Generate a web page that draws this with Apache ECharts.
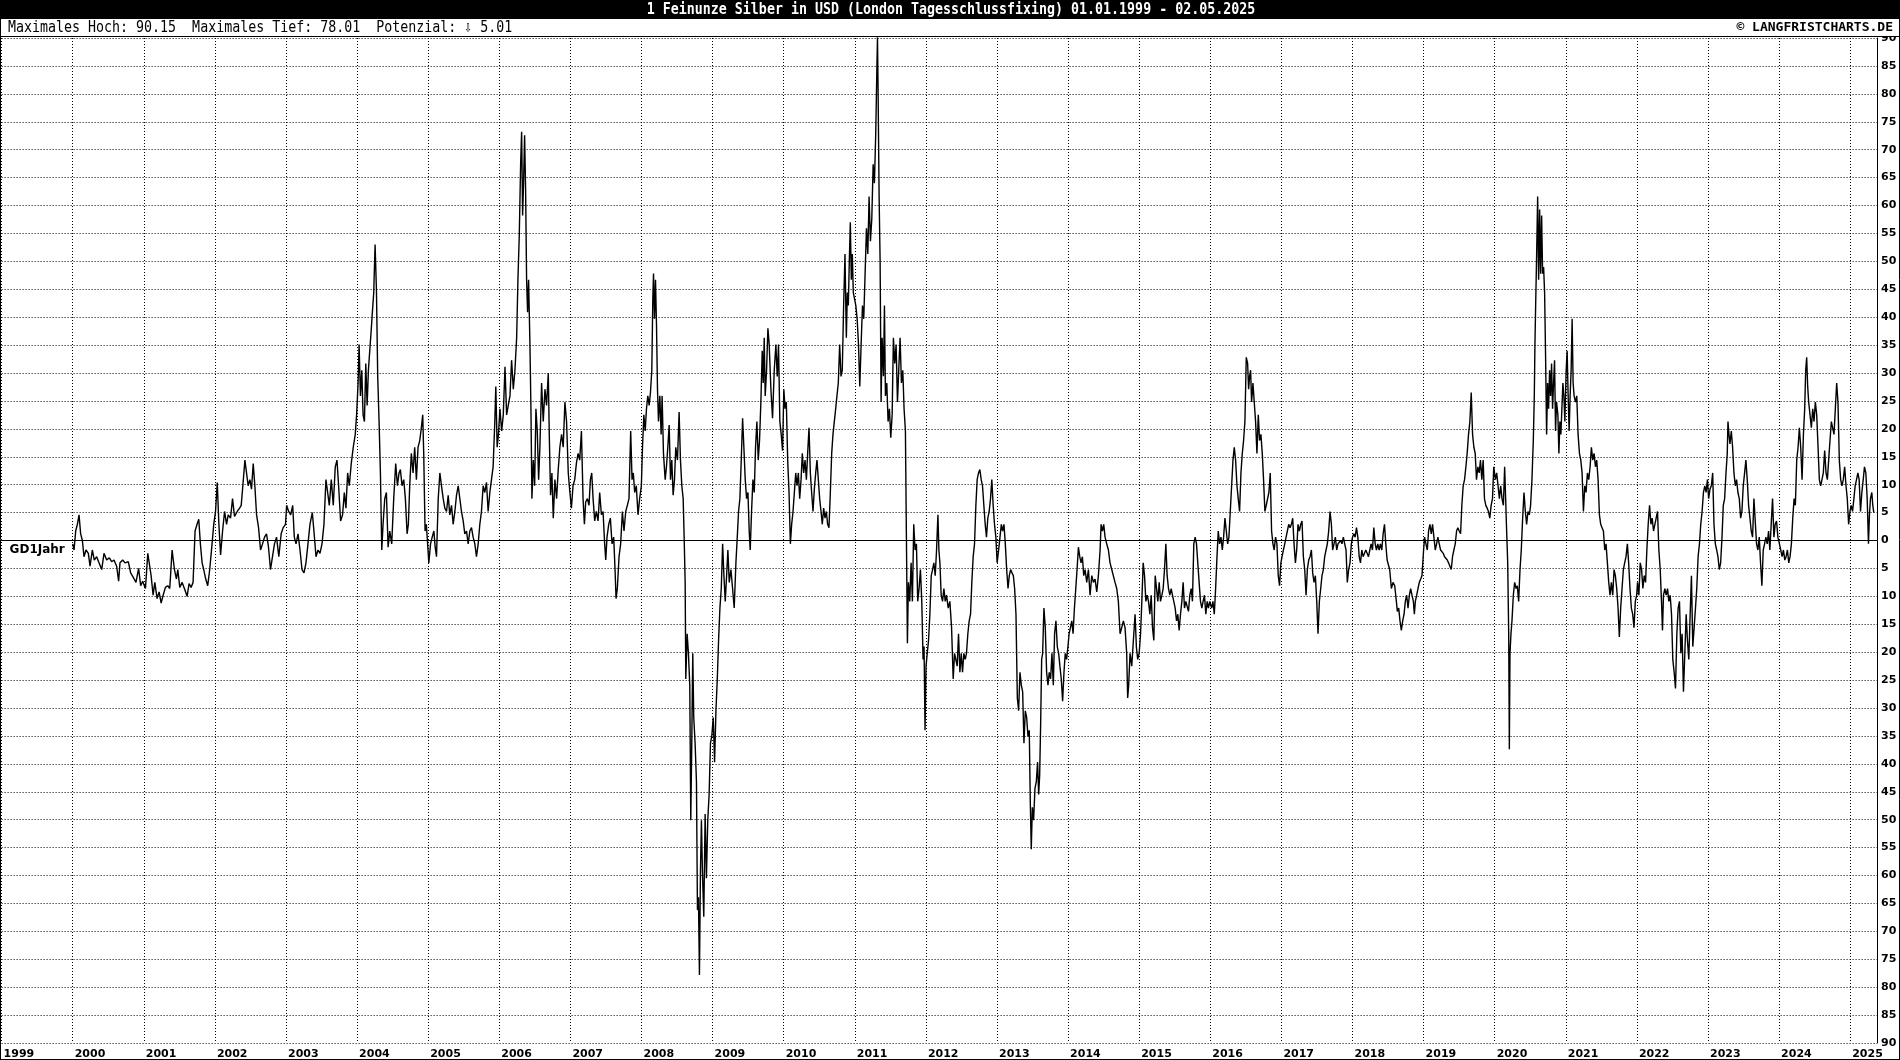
<!DOCTYPE html>
<html><head><meta charset="utf-8">
<script src="https://cdn.jsdelivr.net/npm/echarts@6/dist/echarts.min.js"></script>
<style>html,body{margin:0;padding:0;background:#fff}#c{width:1900px;height:1060px}</style>
</head><body><div id="c"></div>
<script>
const titleText = '1 Feinunze Silber in USD (London Tagesschlussfixing) 01.01.1999 - 02.05.2025';
const infoText = 'Maximales Hoch: 90.15  Maximales Tief: 78.01  Potenzial: \u21E9 5.01';
const copyText = '\u00A9 LANGFRISTCHARTS.DE';
const lineName = 'GD1Jahr';
const yTicks = [-90,-85,-80,-75,-70,-65,-60,-55,-50,-45,-40,-35,-30,-25,-20,-15,-10,-5,0,5,10,15,20,25,30,35,40,45,50,55,60,65,70,75,80,85,90];
const yearTicks = [1999,2000,2001,2002,2003,2004,2005,2006,2007,2008,2009,2010,2011,2012,2013,2014,2015,2016,2017,2018,2019,2020,2021,2022,2023,2024,2025];

// [decimal year, % deviation from 1-year moving average]
const d2000 = [[2000.000,-0.6],[2000.019,-1.7],[2000.042,1.7],[2000.066,2.9],[2000.089,4.6],[2000.112,1.2],[2000.136,0],[2000.159,-2.9],[2000.187,-1.7],[2000.220,-2.3],[2000.244,-4.6],[2000.276,-1.7],[2000.304,-3.5],[2000.337,-2.9],[2000.370,-4.0],[2000.408,-5.2],[2000.440,-2.3],[2000.478,-3.5],[2000.515,-3.1],[2000.548,-3.8],[2000.581,-3.5],[2000.618,-4.6],[2000.646,-7.3],[2000.665,-4.0],[2000.703,-3.5],[2000.735,-4.0],[2000.782,-3.8],[2000.815,-5.8],[2000.852,-6.6],[2000.890,-7.5],[2000.927,-5.0],[2000.956,-8.1],[2000.984,-7.3]];
const d2001 = [[2001.023,-8.6],[2001.056,-2.3],[2001.084,-2.3],[2001.103,-6.3],[2001.131,-9.8],[2001.155,-7.5],[2001.187,-10.4],[2001.215,-9.2],[2001.244,-11.2],[2001.272,-9.8],[2001.304,-8.4],[2001.337,-8.1],[2001.365,-8.6],[2001.398,-1.7],[2001.431,-5.2],[2001.459,-6.9],[2001.478,-5.2],[2001.506,-8.4],[2001.539,-7.5],[2001.571,-8.6],[2001.609,-10.0],[2001.637,-7.7],[2001.665,-8.4],[2001.693,-7.5],[2001.721,1.7],[2001.749,2.9],[2001.773,3.8],[2001.796,-0.6],[2001.820,-4.0],[2001.843,-5.2],[2001.871,-6.9],[2001.899,-8.1],[2001.927,-5.2],[2001.960,-0.6],[2001.984,2.9]];
const d2002 = [[2002.009,5.2],[2002.033,10.4],[2002.056,2.9],[2002.080,-2.6],[2002.108,1.7],[2002.136,5.2],[2002.164,2.9],[2002.187,4.6],[2002.220,4.0],[2002.248,7.5],[2002.276,4.3],[2002.314,5.2],[2002.347,5.8],[2002.370,6.3],[2002.393,9.8],[2002.422,14.4],[2002.445,12.1],[2002.468,9.8],[2002.492,10.9],[2002.515,9.2],[2002.539,13.8],[2002.562,9.8],[2002.586,4.6],[2002.614,2.3],[2002.642,-1.7],[2002.670,-0.6],[2002.698,0.6],[2002.726,1.2],[2002.754,-1.2],[2002.782,-5.2],[2002.810,-2.9],[2002.838,-0.6],[2002.867,0.6],[2002.899,-2.9],[2002.932,1.2],[2002.960,2.3],[2002.993,2.9]];
const d2003 = [[2003.009,6.3],[2003.037,5.2],[2003.066,4.6],[2003.094,6.3],[2003.117,0.6],[2003.141,-0.6],[2003.169,1.2],[2003.197,-1.7],[2003.225,-5.2],[2003.253,-5.8],[2003.281,-4.0],[2003.309,-0.6],[2003.337,2.9],[2003.370,5.0],[2003.393,1.7],[2003.422,-2.9],[2003.450,-1.7],[2003.478,-2.3],[2003.506,-0.6],[2003.534,2.9],[2003.562,10.9],[2003.586,8.6],[2003.609,6.3],[2003.637,10.9],[2003.665,6.3],[2003.693,13.2],[2003.717,14.4],[2003.740,9.8],[2003.768,3.5],[2003.796,4.6],[2003.820,8.6],[2003.843,5.8],[2003.867,12.1],[2003.890,9.8],[2003.918,13.8],[2003.946,16.7],[2003.974,19.0],[2003.993,22.5]];
const d2004 = [[2004.014,28.2],[2004.028,35.1],[2004.047,25.9],[2004.066,30.5],[2004.084,22.5],[2004.103,21.3],[2004.122,31.7],[2004.141,24.2],[2004.159,30.5],[2004.178,34.0],[2004.197,37.4],[2004.215,40.9],[2004.234,44.4],[2004.253,53.0],[2004.272,44.9],[2004.290,29.4],[2004.309,21.3],[2004.328,12.1],[2004.347,-1.7],[2004.365,2.9],[2004.389,7.5],[2004.412,8.6],[2004.436,-1.2],[2004.459,1.7],[2004.487,-0.6],[2004.515,7.5],[2004.543,13.8],[2004.567,9.8],[2004.590,12.1],[2004.609,12.7],[2004.632,9.8],[2004.656,10.9],[2004.679,7.5],[2004.703,1.2],[2004.721,2.9],[2004.740,9.8],[2004.763,15.6],[2004.787,12.1],[2004.810,16.7],[2004.834,10.9],[2004.857,16.7],[2004.881,17.9],[2004.904,20.2],[2004.923,22.5],[2004.937,15.6],[2004.956,1.7],[2004.974,2.9]];
const d2005 = [[2005.009,-4.0],[2005.033,-0.6],[2005.056,0.6],[2005.080,1.7],[2005.098,-1.2],[2005.117,-2.9],[2005.141,7.5],[2005.164,12.1],[2005.187,9.8],[2005.211,7.5],[2005.234,5.8],[2005.258,5.2],[2005.281,8.1],[2005.304,4.6],[2005.328,6.3],[2005.351,2.9],[2005.375,5.2],[2005.398,8.1],[2005.422,9.8],[2005.445,7.5],[2005.468,5.2],[2005.492,3.5],[2005.515,1.2],[2005.539,1.7],[2005.562,-0.6],[2005.586,1.7],[2005.609,2.3],[2005.632,0.6],[2005.656,-0.6],[2005.679,-2.9],[2005.703,-0.6],[2005.726,2.9],[2005.749,5.2],[2005.773,9.8],[2005.796,8.6],[2005.820,10.4],[2005.843,5.2],[2005.867,8.6],[2005.890,10.9],[2005.913,13.2],[2005.937,21.3],[2005.951,27.6],[2005.970,16.7],[2005.988,19.0]];
const d2006 = [[2006.009,23.6],[2006.033,19.6],[2006.056,22.5],[2006.080,31.1],[2006.103,22.5],[2006.126,24.2],[2006.150,25.9],[2006.173,32.3],[2006.197,27.1],[2006.220,30.5],[2006.244,36.3],[2006.262,46.7],[2006.281,54.7],[2006.300,67.4],[2006.314,73.2],[2006.328,58.2],[2006.342,64.5],[2006.356,72.6],[2006.370,62.8],[2006.384,46.7],[2006.398,40.9],[2006.412,46.7],[2006.431,35.1],[2006.445,23.6],[2006.459,7.5],[2006.478,14.4],[2006.497,9.8],[2006.515,23.6],[2006.534,19.6],[2006.553,10.9],[2006.571,16.7],[2006.595,28.2],[2006.618,21.3],[2006.642,27.1],[2006.665,24.2],[2006.689,30.0],[2006.703,19.0],[2006.721,8.1],[2006.740,12.1],[2006.759,4.0],[2006.782,10.9],[2006.806,7.5],[2006.829,12.7],[2006.852,16.7],[2006.876,19.0],[2006.899,16.7],[2006.923,24.8],[2006.946,21.3],[2006.970,12.1],[2006.993,8.6]];
const d2007 = [[2007.014,5.8],[2007.037,9.8],[2007.061,10.9],[2007.084,13.8],[2007.108,15.6],[2007.131,14.4],[2007.155,19.6],[2007.178,7.5],[2007.197,2.9],[2007.215,6.9],[2007.239,7.5],[2007.262,6.3],[2007.281,10.9],[2007.300,12.1],[2007.319,7.5],[2007.342,3.5],[2007.365,5.2],[2007.389,3.5],[2007.412,8.6],[2007.436,4.6],[2007.459,5.2],[2007.482,-0.6],[2007.497,-3.5],[2007.515,0.6],[2007.539,2.9],[2007.562,4.0],[2007.586,-0.6],[2007.609,0.6],[2007.628,-5.2],[2007.642,-10.4],[2007.660,-8.6],[2007.684,-2.9],[2007.707,-0.6],[2007.731,5.2],[2007.754,1.7],[2007.778,5.2],[2007.801,6.3],[2007.824,7.5],[2007.848,19.6],[2007.867,10.9],[2007.885,12.1],[2007.904,8.6],[2007.927,9.8],[2007.951,4.6],[2007.974,7.5],[2007.998,9.8]];
const d2008 = [[2008.014,16.7],[2008.033,22.5],[2008.052,19.6],[2008.070,23.6],[2008.089,25.9],[2008.108,24.2],[2008.126,26.5],[2008.145,30.5],[2008.159,43.2],[2008.169,47.8],[2008.183,39.7],[2008.197,46.7],[2008.211,38.6],[2008.225,27.1],[2008.239,21.3],[2008.258,25.9],[2008.276,19.0],[2008.290,25.9],[2008.309,15.6],[2008.333,10.9],[2008.351,13.2],[2008.370,16.7],[2008.389,20.7],[2008.408,10.9],[2008.426,14.4],[2008.445,8.1],[2008.464,10.9],[2008.482,16.7],[2008.506,14.4],[2008.529,23.0],[2008.548,14.4],[2008.567,9.8],[2008.586,7.5],[2008.600,0.6],[2008.614,-7.5],[2008.623,-24.8],[2008.642,-16.7],[2008.660,-20.2],[2008.679,-25.9],[2008.693,-50.1],[2008.707,-36.3],[2008.721,-20.2],[2008.735,-31.7],[2008.754,-36.3],[2008.773,-43.2],[2008.787,-66.2],[2008.801,-63.9],[2008.815,-77.8],[2008.829,-59.3],[2008.843,-50.1],[2008.857,-59.3],[2008.876,-67.4],[2008.895,-49.0],[2008.913,-60.5],[2008.932,-50.1],[2008.951,-45.5],[2008.970,-36.3],[2008.988,-35.1]];
const d2009 = [[2009.009,-31.7],[2009.028,-39.7],[2009.047,-30.5],[2009.066,-24.8],[2009.084,-17.9],[2009.103,-12.1],[2009.122,-8.6],[2009.141,-0.6],[2009.159,-6.3],[2009.178,-10.9],[2009.197,-6.3],[2009.215,-1.7],[2009.234,-7.5],[2009.258,-5.2],[2009.281,-8.6],[2009.304,-12.1],[2009.328,-4.0],[2009.347,0.6],[2009.365,5.2],[2009.384,7.5],[2009.403,14.4],[2009.422,21.9],[2009.440,16.7],[2009.459,10.9],[2009.478,7.5],[2009.497,8.6],[2009.515,1.7],[2009.529,-1.7],[2009.548,5.2],[2009.567,10.9],[2009.586,8.6],[2009.604,16.7],[2009.623,21.3],[2009.642,14.4],[2009.660,17.9],[2009.679,24.8],[2009.698,34.0],[2009.712,28.2],[2009.726,36.3],[2009.740,25.9],[2009.759,30.5],[2009.778,38.0],[2009.796,35.1],[2009.820,27.1],[2009.843,21.9],[2009.867,30.5],[2009.890,35.1],[2009.909,29.4],[2009.927,35.1],[2009.946,21.3],[2009.965,19.0],[2009.984,16.1]];
const d2010 = [[2010.002,27.1],[2010.019,23.6],[2010.037,24.8],[2010.056,14.4],[2010.075,8.6],[2010.094,-0.6],[2010.112,2.9],[2010.131,5.2],[2010.150,8.6],[2010.169,12.1],[2010.187,9.8],[2010.206,12.1],[2010.225,7.5],[2010.244,10.9],[2010.262,15.6],[2010.281,12.1],[2010.300,14.4],[2010.319,10.9],[2010.337,15.6],[2010.356,20.2],[2010.375,12.1],[2010.393,8.6],[2010.412,5.2],[2010.431,9.2],[2010.450,12.1],[2010.468,14.4],[2010.487,10.9],[2010.506,7.5],[2010.525,5.2],[2010.543,2.9],[2010.562,5.8],[2010.581,4.0],[2010.600,5.2],[2010.618,2.9],[2010.637,2.3],[2010.656,8.6],[2010.675,15.6],[2010.693,19.0],[2010.712,21.3],[2010.731,23.6],[2010.749,25.9],[2010.768,28.2],[2010.787,35.1],[2010.806,29.4],[2010.824,30.5],[2010.843,42.1],[2010.862,51.3],[2010.881,36.3],[2010.895,44.4],[2010.909,42.1],[2010.923,50.1],[2010.937,57.0],[2010.951,46.7],[2010.965,51.3],[2010.979,44.4]];
const d2011 = [[2011.014,42.1],[2011.033,39.7],[2011.052,35.1],[2011.070,27.6],[2011.089,35.1],[2011.108,42.1],[2011.126,39.7],[2011.145,47.8],[2011.164,55.9],[2011.183,51.3],[2011.201,61.6],[2011.220,53.6],[2011.239,57.6],[2011.258,67.4],[2011.276,64.0],[2011.295,73.2],[2011.309,83.5],[2011.319,90.2],[2011.328,80.1],[2011.342,61.6],[2011.356,50.1],[2011.370,24.8],[2011.384,36.3],[2011.403,29.4],[2011.417,42.1],[2011.431,25.9],[2011.450,28.2],[2011.468,21.3],[2011.487,23.6],[2011.506,18.4],[2011.525,22.5],[2011.543,36.3],[2011.562,31.7],[2011.581,35.1],[2011.600,24.8],[2011.618,30.5],[2011.637,36.3],[2011.656,28.2],[2011.675,30.5],[2011.693,23.6],[2011.712,19.6],[2011.726,0.6],[2011.740,-18.4],[2011.754,-7.5],[2011.773,-10.9],[2011.792,-4.0],[2011.810,-10.9],[2011.829,2.9],[2011.848,-1.7],[2011.867,-0.6],[2011.885,-10.9],[2011.904,-8.6],[2011.923,-5.2],[2011.942,-10.9],[2011.960,-21.3],[2011.974,-19.0],[2011.988,-34.0]];
const d2012 = [[2012.002,-22.5],[2012.019,-20.2],[2012.037,-17.9],[2012.056,-13.2],[2012.075,-6.3],[2012.094,-5.2],[2012.112,-4.0],[2012.131,-6.3],[2012.150,-1.7],[2012.169,4.6],[2012.183,-1.7],[2012.197,-4.0],[2012.215,-9.8],[2012.234,-10.9],[2012.253,-8.6],[2012.272,-10.9],[2012.290,-9.8],[2012.314,-12.1],[2012.337,-10.9],[2012.361,-15.6],[2012.384,-24.8],[2012.403,-20.2],[2012.422,-20.2],[2012.440,-22.5],[2012.459,-16.7],[2012.478,-23.6],[2012.497,-20.2],[2012.515,-23.6],[2012.534,-20.2],[2012.553,-21.3],[2012.571,-20.2],[2012.590,-16.7],[2012.609,-14.4],[2012.628,-13.2],[2012.646,-7.5],[2012.665,-2.9],[2012.684,-0.6],[2012.703,6.3],[2012.721,10.9],[2012.740,12.1],[2012.759,12.7],[2012.778,10.9],[2012.796,9.8],[2012.815,6.3],[2012.834,2.9],[2012.852,0.6],[2012.871,4.0],[2012.890,5.2],[2012.909,7.5],[2012.927,10.9],[2012.946,6.3],[2012.965,2.9],[2012.984,0.6]];
const d2013 = [[2013.002,-4.0],[2013.023,-1.7],[2013.042,0.6],[2013.061,2.9],[2013.080,1.7],[2013.098,2.9],[2013.117,-0.6],[2013.136,-5.2],[2013.155,-8.6],[2013.173,-6.3],[2013.192,-5.2],[2013.211,-5.8],[2013.230,-6.3],[2013.248,-8.6],[2013.267,-13.2],[2013.286,-28.2],[2013.304,-30.5],[2013.323,-23.6],[2013.342,-25.9],[2013.361,-27.1],[2013.379,-36.3],[2013.398,-30.5],[2013.417,-31.7],[2013.436,-35.1],[2013.454,-34.0],[2013.468,-46.7],[2013.482,-55.3],[2013.497,-47.8],[2013.515,-50.1],[2013.534,-44.4],[2013.553,-43.2],[2013.571,-39.7],[2013.586,-45.5],[2013.600,-42.1],[2013.614,-32.8],[2013.628,-21.3],[2013.642,-20.2],[2013.660,-12.1],[2013.679,-15.6],[2013.698,-23.6],[2013.717,-25.9],[2013.735,-23.6],[2013.754,-24.8],[2013.773,-20.2],[2013.792,-25.9],[2013.810,-16.7],[2013.829,-14.4],[2013.848,-19.0],[2013.867,-20.2],[2013.885,-22.5],[2013.904,-24.8],[2013.923,-28.8],[2013.942,-23.6],[2013.960,-20.2],[2013.979,-21.3],[2013.998,-19.0]];
const d2014 = [[2014.014,-16.7],[2014.033,-15.6],[2014.052,-14.4],[2014.070,-16.7],[2014.089,-12.1],[2014.108,-8.6],[2014.126,-5.2],[2014.145,-1.2],[2014.164,-2.9],[2014.183,-4.0],[2014.201,-2.9],[2014.220,-6.3],[2014.239,-5.2],[2014.262,-7.5],[2014.286,-5.2],[2014.309,-9.8],[2014.333,-6.3],[2014.356,-7.5],[2014.379,-6.9],[2014.403,-9.2],[2014.426,-6.3],[2014.450,-1.7],[2014.464,2.9],[2014.482,1.7],[2014.501,2.9],[2014.520,0.6],[2014.543,-0.6],[2014.567,-1.7],[2014.590,-4.0],[2014.614,-5.2],[2014.637,-5.2],[2014.660,-7.5],[2014.684,-8.6],[2014.707,-10.9],[2014.731,-16.7],[2014.754,-15.6],[2014.778,-14.4],[2014.801,-15.6],[2014.824,-20.2],[2014.838,-28.2],[2014.852,-25.9],[2014.871,-20.2],[2014.895,-22.5],[2014.918,-17.9],[2014.942,-13.2],[2014.960,-19.0],[2014.979,-21.3]];
const d2015 = [[2015.000,-20.2],[2015.019,-16.7],[2015.037,-10.9],[2015.056,-4.0],[2015.075,-6.3],[2015.094,-10.9],[2015.112,-9.8],[2015.131,-10.9],[2015.150,-13.2],[2015.169,-9.8],[2015.187,-15.6],[2015.206,-17.9],[2015.225,-6.3],[2015.244,-8.6],[2015.262,-10.9],[2015.281,-7.5],[2015.300,-10.9],[2015.319,-9.8],[2015.337,-8.6],[2015.356,-5.2],[2015.375,-0.6],[2015.393,-6.3],[2015.412,-8.6],[2015.431,-9.8],[2015.450,-8.6],[2015.468,-9.8],[2015.487,-9.8],[2015.506,-12.1],[2015.525,-14.4],[2015.543,-13.2],[2015.562,-16.1],[2015.581,-13.2],[2015.600,-10.9],[2015.618,-7.5],[2015.637,-12.1],[2015.656,-10.9],[2015.675,-10.9],[2015.693,-12.7],[2015.712,-9.8],[2015.731,-8.6],[2015.749,-10.9],[2015.768,-0.6],[2015.787,0.6],[2015.806,-0.6],[2015.824,-4.0],[2015.843,-7.5],[2015.862,-10.9],[2015.881,-12.1],[2015.899,-10.9],[2015.918,-9.8],[2015.937,-13.2],[2015.956,-10.9],[2015.974,-12.1],[2015.993,-10.9]];
const d2016 = [[2016.019,-12.1],[2016.037,-10.9],[2016.056,-13.2],[2016.075,-8.6],[2016.094,-2.9],[2016.112,1.7],[2016.131,-0.6],[2016.150,0.6],[2016.169,-1.7],[2016.187,0.6],[2016.206,4.0],[2016.225,1.7],[2016.244,-0.6],[2016.262,0.6],[2016.281,5.2],[2016.300,9.8],[2016.319,14.4],[2016.337,16.7],[2016.356,14.4],[2016.375,9.8],[2016.393,7.5],[2016.412,5.2],[2016.431,12.1],[2016.450,15.6],[2016.468,17.9],[2016.487,21.3],[2016.506,32.8],[2016.525,31.7],[2016.539,27.1],[2016.553,29.4],[2016.567,30.5],[2016.581,24.8],[2016.600,28.2],[2016.618,24.8],[2016.637,21.3],[2016.656,15.6],[2016.675,22.5],[2016.693,17.9],[2016.712,19.0],[2016.731,15.6],[2016.749,10.9],[2016.768,5.2],[2016.787,6.3],[2016.806,7.5],[2016.824,8.6],[2016.843,12.1],[2016.862,1.7],[2016.881,-0.6],[2016.899,-1.7],[2016.918,0.6],[2016.937,-0.6],[2016.956,-6.3],[2016.974,-8.1],[2016.993,-4.0]];
const d2017 = [[2017.009,-2.9],[2017.028,-1.7],[2017.047,-0.6],[2017.066,0.6],[2017.084,1.7],[2017.103,2.9],[2017.122,2.3],[2017.141,2.9],[2017.159,4.0],[2017.178,-0.6],[2017.197,-4.0],[2017.215,-1.7],[2017.234,2.9],[2017.253,1.7],[2017.272,2.9],[2017.290,3.5],[2017.309,-2.9],[2017.328,-5.2],[2017.347,-9.8],[2017.365,-5.2],[2017.384,-3.5],[2017.403,-2.9],[2017.422,-1.7],[2017.440,-5.8],[2017.459,-7.5],[2017.478,-6.3],[2017.497,-10.9],[2017.515,-16.7],[2017.534,-10.9],[2017.553,-8.6],[2017.571,-6.3],[2017.590,-5.2],[2017.609,-2.9],[2017.628,-1.7],[2017.646,-0.6],[2017.665,1.7],[2017.684,5.2],[2017.703,2.9],[2017.721,-1.7],[2017.740,-0.6],[2017.759,0.6],[2017.778,-1.7],[2017.796,-0.6],[2017.815,-0.6],[2017.834,0],[2017.852,-0.6],[2017.871,0.6],[2017.890,-0.6],[2017.909,-1.7],[2017.927,-7.5],[2017.946,-5.2],[2017.965,-4.0],[2017.984,-0.6]];
const d2018 = [[2018.000,0.6],[2018.019,1.2],[2018.037,0.6],[2018.056,2.3],[2018.075,0.6],[2018.094,-2.9],[2018.112,-4.0],[2018.131,-1.7],[2018.150,-2.9],[2018.169,-2.9],[2018.187,-1.7],[2018.206,-2.3],[2018.225,-2.9],[2018.244,-1.7],[2018.262,-0.6],[2018.281,-1.7],[2018.300,2.3],[2018.319,-0.6],[2018.337,-1.7],[2018.356,-0.6],[2018.375,-1.7],[2018.393,-0.6],[2018.412,-1.7],[2018.431,1.2],[2018.450,2.9],[2018.468,-0.6],[2018.487,-3.5],[2018.523,-5.2],[2018.547,-8.6],[2018.570,-7.5],[2018.594,-8.1],[2018.617,-10.9],[2018.631,-12.7],[2018.650,-12.1],[2018.668,-14.4],[2018.687,-16.1],[2018.706,-14.4],[2018.725,-13.2],[2018.743,-10.9],[2018.762,-9.8],[2018.781,-12.1],[2018.800,-9.8],[2018.818,-8.6],[2018.837,-9.8],[2018.856,-10.9],[2018.870,-13.2],[2018.884,-10.9],[2018.903,-9.8],[2018.921,-8.6],[2018.940,-7.5],[2018.959,-6.9],[2018.977,-6.3]];
const d2019 = [[2019.000,-1.7],[2019.014,0.6],[2019.033,-0.6],[2019.052,-1.7],[2019.070,1.7],[2019.089,2.9],[2019.108,1.2],[2019.126,2.9],[2019.145,0.6],[2019.164,-1.7],[2019.183,-0.6],[2019.201,0.6],[2019.220,-0.6],[2019.239,-1.7],[2019.258,-1.7],[2019.276,-2.3],[2019.295,-2.9],[2019.314,-2.9],[2019.333,-3.5],[2019.351,-4.0],[2019.370,-4.6],[2019.389,-5.2],[2019.407,-2.9],[2019.426,-1.7],[2019.445,-0.6],[2019.464,1.7],[2019.482,2.3],[2019.501,1.7],[2019.520,1.2],[2019.538,6.3],[2019.557,9.8],[2019.576,10.9],[2019.595,13.2],[2019.613,15.6],[2019.632,19.0],[2019.651,21.3],[2019.670,26.5],[2019.689,19.0],[2019.707,16.7],[2019.726,15.6],[2019.744,10.9],[2019.763,13.2],[2019.782,12.1],[2019.800,14.4],[2019.819,10.9],[2019.838,14.4],[2019.856,7.5],[2019.875,6.3],[2019.894,5.8],[2019.912,5.2],[2019.931,4.0],[2019.950,6.3],[2019.969,7.5],[2019.987,13.2]];
const d2020 = [[2020.009,10.9],[2020.028,12.1],[2020.047,9.8],[2020.066,7.5],[2020.084,9.8],[2020.103,7.5],[2020.122,6.3],[2020.140,13.2],[2020.154,7.5],[2020.168,1.7],[2020.183,-4.0],[2020.197,-16.7],[2020.206,-37.4],[2020.215,-20.2],[2020.229,-16.7],[2020.243,-14.4],[2020.262,-9.8],[2020.281,-7.5],[2020.300,-8.6],[2020.318,-8.1],[2020.337,-10.9],[2020.356,-5.2],[2020.374,-1.7],[2020.393,4.0],[2020.412,8.6],[2020.431,5.2],[2020.449,2.9],[2020.468,5.2],[2020.487,4.6],[2020.505,6.3],[2020.524,10.9],[2020.543,17.9],[2020.557,25.9],[2020.566,35.1],[2020.576,42.1],[2020.590,51.3],[2020.604,61.6],[2020.618,46.7],[2020.632,59.3],[2020.646,47.8],[2020.660,58.2],[2020.674,47.8],[2020.688,49.0],[2020.702,44.4],[2020.716,32.8],[2020.730,19.0],[2020.744,28.2],[2020.758,23.6],[2020.772,30.5],[2020.786,25.9],[2020.800,31.7],[2020.814,23.6],[2020.828,28.2],[2020.842,32.3],[2020.856,19.6],[2020.870,24.8],[2020.889,22.5],[2020.903,15.6],[2020.917,21.3],[2020.931,19.0],[2020.945,23.6],[2020.959,28.2],[2020.973,25.9],[2020.987,21.3]];
const d2021 = [[2021.005,30.5],[2021.019,34.0],[2021.033,25.9],[2021.047,19.6],[2021.061,25.9],[2021.075,30.5],[2021.089,39.7],[2021.103,28.2],[2021.117,25.9],[2021.136,24.8],[2021.154,25.9],[2021.173,19.0],[2021.192,15.6],[2021.211,14.4],[2021.229,12.1],[2021.248,5.2],[2021.267,9.8],[2021.285,8.6],[2021.304,12.1],[2021.323,10.9],[2021.342,13.2],[2021.360,16.7],[2021.379,14.4],[2021.398,15.6],[2021.417,13.2],[2021.435,14.4],[2021.454,10.9],[2021.473,4.6],[2021.491,2.9],[2021.510,2.3],[2021.529,1.7],[2021.548,-1.7],[2021.566,-0.6],[2021.585,-4.0],[2021.604,-7.5],[2021.622,-9.8],[2021.641,-7.5],[2021.660,-9.8],[2021.679,-5.2],[2021.697,-6.3],[2021.716,-8.6],[2021.735,-12.1],[2021.753,-17.3],[2021.772,-12.1],[2021.791,-8.6],[2021.810,-5.2],[2021.828,-4.0],[2021.847,-2.9],[2021.866,-0.6],[2021.884,-4.0],[2021.903,-8.6],[2021.922,-12.1],[2021.941,-13.2],[2021.959,-15.6],[2021.978,-10.9],[2021.997,-9.8]];
const d2022 = [[2022.009,-7.5],[2022.028,-9.8],[2022.047,-4.0],[2022.066,-5.2],[2022.084,-8.6],[2022.103,-6.3],[2022.122,-7.5],[2022.140,-1.7],[2022.159,2.9],[2022.178,6.3],[2022.197,2.9],[2022.215,4.0],[2022.234,1.7],[2022.253,2.9],[2022.271,4.0],[2022.290,5.2],[2022.309,-1.7],[2022.328,-5.2],[2022.346,-10.9],[2022.360,-16.1],[2022.374,-9.8],[2022.393,-8.6],[2022.412,-9.8],[2022.431,-8.6],[2022.449,-10.9],[2022.468,-9.8],[2022.487,-13.2],[2022.505,-21.3],[2022.524,-23.6],[2022.543,-26.5],[2022.562,-16.7],[2022.580,-12.1],[2022.599,-10.9],[2022.618,-20.2],[2022.636,-16.7],[2022.655,-27.1],[2022.674,-20.2],[2022.693,-13.2],[2022.711,-17.9],[2022.730,-21.3],[2022.749,-13.2],[2022.767,-6.3],[2022.786,-19.0],[2022.805,-15.6],[2022.824,-12.1],[2022.842,-8.6],[2022.861,-2.9],[2022.880,-0.6],[2022.898,2.9],[2022.917,5.2],[2022.936,8.6],[2022.955,9.8],[2022.973,8.6],[2022.992,10.9]];
const d2023 = [[2023.009,7.5],[2023.028,9.2],[2023.047,9.8],[2023.066,12.1],[2023.084,2.9],[2023.103,-0.6],[2023.122,-1.7],[2023.140,-2.9],[2023.159,-5.2],[2023.178,-4.0],[2023.197,0.6],[2023.215,6.3],[2023.234,7.5],[2023.253,12.1],[2023.271,15.6],[2023.281,21.3],[2023.295,19.0],[2023.309,17.3],[2023.328,19.6],[2023.346,16.7],[2023.365,12.1],[2023.384,9.8],[2023.402,10.9],[2023.421,8.6],[2023.440,7.5],[2023.459,4.0],[2023.477,5.2],[2023.496,9.8],[2023.515,12.1],[2023.533,14.4],[2023.552,10.9],[2023.571,6.3],[2023.590,4.0],[2023.608,1.7],[2023.627,0.6],[2023.646,7.5],[2023.665,7.5],[2023.683,-0.6],[2023.702,-1.7],[2023.721,0.6],[2023.739,-4.0],[2023.758,-8.1],[2023.777,-1.7],[2023.796,-0.6],[2023.814,0.6],[2023.833,-0.6],[2023.852,1.7],[2023.870,-1.7],[2023.889,2.9],[2023.908,7.5],[2023.927,0.6],[2023.945,2.9],[2023.964,3.5],[2023.983,0.6]];
const d2024 = [[2024.005,-0.6],[2024.023,-1.7],[2024.042,-2.9],[2024.061,-1.7],[2024.080,-3.5],[2024.098,-2.9],[2024.117,-1.7],[2024.136,-4.0],[2024.154,-2.9],[2024.173,-0.6],[2024.192,4.0],[2024.211,7.5],[2024.229,6.3],[2024.248,14.4],[2024.267,16.7],[2024.285,20.2],[2024.304,16.7],[2024.323,10.9],[2024.342,19.0],[2024.360,23.6],[2024.374,30.5],[2024.388,32.8],[2024.402,27.6],[2024.416,24.8],[2024.435,22.5],[2024.454,20.2],[2024.473,23.6],[2024.491,21.3],[2024.510,24.8],[2024.529,22.5],[2024.548,16.7],[2024.566,10.9],[2024.585,9.8],[2024.604,9.8],[2024.622,12.1],[2024.641,16.1],[2024.660,12.1],[2024.679,10.9],[2024.697,14.4],[2024.716,17.9],[2024.735,21.3],[2024.753,20.2],[2024.772,19.0],[2024.791,23.6],[2024.810,28.2],[2024.828,24.8],[2024.847,14.4],[2024.866,10.9],[2024.884,9.8],[2024.903,10.9],[2024.922,13.2],[2024.941,9.8],[2024.959,7.5],[2024.978,2.9],[2024.997,5.2]];
const d2025 = [[2025.014,6.3],[2025.033,5.2],[2025.052,7.5],[2025.070,9.8],[2025.089,10.9],[2025.108,12.1],[2025.126,10.9],[2025.145,5.2],[2025.164,8.6],[2025.183,10.9],[2025.201,13.2],[2025.220,12.1],[2025.239,7.5],[2025.257,-0.6],[2025.271,4.6],[2025.285,7.5],[2025.304,8.6],[2025.318,6.3],[2025.332,5.0]];

const seriesData = [].concat(d2000,d2001,d2002,d2003,d2004,d2005,d2006,d2007,d2008,d2009,d2010,d2011,d2012,d2013,d2014,d2015,d2016,d2017,d2018,d2019,d2020,d2021,d2022,d2023,d2024,d2025);

const FONT = '"DejaVu Sans", Verdana, sans-serif';
const MONO = '"DejaVu Sans Mono", monospace';
const chart = echarts.init(document.getElementById('c'), null, {renderer: 'canvas'});
chart.setOption({
  animation: false,
  backgroundColor: '#ffffff',
  grid: {left: 1.6, right: 23, top: 38, bottom: 16, containLabel: false},
  xAxis: {
    type: 'value', min: yearTicks[0], max: 2025.377, interval: 1,
    offset: 3,
    axisLine: {show: true, lineStyle: {color: '#000', width: 1}},
    axisTick: {show: false},
    axisLabel: {show: true, showMaxLabel: false, align: 'left', margin: 3, padding: [0,0,0,2],
      color: '#000', fontFamily: FONT, fontWeight: 'bold', fontSize: 11,
      formatter: v => (yearTicks.indexOf(Math.round(v)) >= 0 && Math.abs(v - Math.round(v)) < 1e-6) ? String(Math.round(v)) : ''},
    splitLine: {show: true, lineStyle: {color: '#000', width: 1, type: [1, 2]}}
  },
  yAxis: {
    type: 'value', position: 'right', min: yTicks[0], max: yTicks[yTicks.length-1], interval: 5,
    axisLine: {show: true, lineStyle: {color: '#000', width: 1}},
    axisTick: {show: false},
    axisLabel: {show: true, margin: 4, color: '#000', fontFamily: FONT, fontWeight: 'bold', fontSize: 11,
      formatter: v => String(Math.abs(v))},
    splitLine: {show: true, lineStyle: {color: '#000', width: 1, type: [1, 2]}}
  },
  series: [{
    type: 'line', name: lineName, data: seriesData, showSymbol: false, symbol: 'none',
    sampling: null, lineStyle: {color: '#000', width: 1.4}, z: 3,
    markLine: {
      silent: true, symbol: ['none', 'none'], animation: false,
      lineStyle: {color: '#000', type: 'solid', width: 1},
      label: {show: true, position: 'insideStartBottom', formatter: lineName, distance: [8, 3],
        color: '#000', fontFamily: FONT, fontWeight: 'bold', fontSize: 12},
      data: [{yAxis: 0}]
    }
  }],
  graphic: [
    {type: 'rect', z: 100, shape: {x: 0, y: 0, width: 1900, height: 19}, style: {fill: '#000'}},
    {type: 'rect', z: 99, shape: {x: 0, y: 19, width: 1900, height: 17}, style: {fill: '#fff'}},
    {type: 'text', z: 101, x: 951, y: 10, scaleY: 1.2, originX: 0, originY: 0, style: {text: titleText, fill: '#fff', font: 'bold 13.3px ' + MONO, textAlign: 'center', textVerticalAlign: 'middle'}},
    {type: 'text', z: 101, x: 8, y: 28, scaleY: 1.25, style: {text: infoText, fill: '#000', font: '13.3px ' + MONO, textAlign: 'left', textVerticalAlign: 'middle'}},
    {type: 'text', z: 101, x: 1893, y: 28, style: {text: copyText, fill: '#000', font: 'bold 13px ' + MONO, textAlign: 'right', textVerticalAlign: 'middle'}},
    {type: 'line', z: 101, shape: {x1: 0, y1: 36.5, x2: 1900, y2: 36.5}, style: {stroke: '#000', lineWidth: 1}},
    {type: 'line', z: 101, shape: {x1: 0.5, y1: 19, x2: 0.5, y2: 1060}, style: {stroke: '#000', lineWidth: 1}},
    {type: 'line', z: 101, shape: {x1: 1899.5, y1: 19, x2: 1899.5, y2: 1060}, style: {stroke: '#000', lineWidth: 1}},
    {type: 'line', z: 101, shape: {x1: 0, y1: 1059.5, x2: 1900, y2: 1059.5}, style: {stroke: '#000', lineWidth: 1}}
  ]
});
</script></body></html>
